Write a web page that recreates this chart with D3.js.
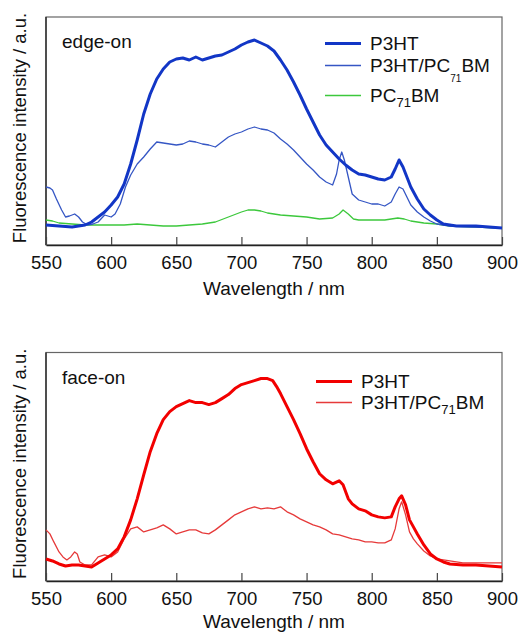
<!DOCTYPE html>
<html>
<head>
<meta charset="utf-8">
<script src="https://cdn.jsdelivr.net/npm/d3@7"></script>
<style>
  body { margin: 0; background: #fff; }
  text { font-family: "Liberation Sans", Arial, sans-serif; fill: #111; }
</style>
</head>
<body>
<svg id="chart" width="519" height="632"></svg>
<script>
// wavelength (nm), intensity (a.u.)
const xTicks = [550, 600, 650, 700, 750, 800, 850, 900];

const edgeP3HT = [[550,20],[560,19],[570,18],[580,20],[585,23],[590,28],[595,33],[600,40],[605,48],[610,61],[615,81],[620,105],[625,131],[630,151],[635,166],[640,176],[645,183],[650,186],[655,187],[660,185],[665,188],[670,185],[675,187],[680,189],[685,190],[690,193],[695,196],[700,200],[705,203],[710,205],[715,202],[720,199],[725,194],[730,185],[735,175],[740,163],[745,150],[750,136],[755,123],[760,110],[765,100],[770,93],[775,86],[780,80],[785,75],[790,71],[795,70],[800,68],[805,66],[810,65],[815,68],[818,76],[821,85],[824,78],[827,68],[830,58],[835,46],[840,36],[845,30],[850,25],[855,21],[860,20],[865,19],[870,19],[880,19],[890,18],[900,17]];

const edgeBlend = [[550,58],[553,57],[555,55],[558,46],[562,35],[565,28],[568,29],[572,31],[575,28],[578,23],[582,20],[586,21],[590,23],[595,30],[600,28],[603,31],[607,41],[611,58],[615,70],[620,81],[625,88],[630,96],[635,103],[640,102],[645,101],[650,100],[655,101],[660,104],[665,103],[670,101],[675,100],[680,98],[685,103],[690,108],[695,111],[700,113],[705,116],[710,118],[715,116],[720,115],[725,112],[730,106],[735,101],[740,95],[745,88],[750,81],[755,75],[760,68],[765,63],[770,60],[773,71],[775,85],[777,93],[779,85],[782,68],[785,51],[790,45],[795,43],[800,41],[805,41],[810,39],[815,43],[818,51],[821,58],[824,56],[827,48],[830,40],[835,33],[840,28],[845,24],[850,21],[855,20],[860,19],[880,18],[900,17]];

const edgePCBM = [[550,25],[555,24],[560,22],[570,21],[580,20],[590,20],[600,20],[610,20],[620,21],[630,20],[640,19],[650,19],[660,20],[670,21],[680,23],[690,28],[700,33],[705,35],[710,35],[715,34],[720,32],[725,31],[730,30],[740,29],[750,28],[760,26],[770,27],[775,31],[778,35],[782,31],[786,26],[790,25],[800,25],[810,25],[815,26],[820,27],[825,26],[830,24],[840,22],[850,21],[860,19],[880,18],[900,17]];

const faceP3HT = [[550,22],[555,20],[560,17],[565,15],[570,16],[575,16],[580,15],[585,14],[590,18],[595,22],[600,26],[605,32],[610,44],[615,61],[620,82],[625,106],[630,129],[635,147],[640,161],[645,169],[650,174],[655,177],[660,180],[665,178],[670,178],[675,176],[680,178],[685,182],[690,186],[695,192],[700,196],[705,198],[710,200],[715,202],[720,202],[724,200],[727,194],[730,187],[735,174],[740,161],[745,147],[750,132],[755,119],[760,107],[765,101],[770,97],[775,100],[778,96],[782,82],[785,77],[790,72],[795,70],[800,66],[805,64],[810,63],[815,64],[818,74],[821,82],[823,85],[826,76],[829,61],[832,54],[835,47],[840,36],[845,27],[850,22],[855,19],[860,17],[870,16],[880,16],[890,15],[900,14]];

const faceBlend = [[550,51],[553,47],[556,39],[560,29],[563,24],[566,21],[569,24],[572,29],[574,27],[576,19],[580,16],[585,16],[590,24],[595,26],[600,24],[605,29],[610,42],[615,52],[620,54],[625,49],[630,51],[635,53],[640,56],[645,52],[650,47],[655,49],[660,51],[665,51],[670,48],[675,47],[680,51],[685,56],[690,61],[695,66],[700,69],[705,72],[710,74],[715,72],[720,73],[725,72],[730,74],[735,69],[740,66],[745,62],[750,59],[755,56],[760,54],[765,51],[770,47],[775,46],[780,44],[785,42],[790,41],[795,39],[800,39],[805,38],[810,38],[815,41],[818,52],[821,72],[823,79],[826,66],[829,49],[832,42],[835,37],[840,30],[845,25],[850,22],[855,21],[860,20],[870,18],[900,18]];

const svg = d3.select("#chart");
const x = d3.scaleLinear().domain([550, 900]).range([46, 502]);

function drawPanel(p) {
    const y = d3.scaleLinear().domain([0, 228]).range([p.bottom, p.top]);
    const g = svg.append("g");

    // frame: grey top/right, black left/bottom
    g.append("rect")
        .attr("x", x(550)).attr("y", p.top)
        .attr("width", x(900) - x(550)).attr("height", p.bottom - p.top)
        .attr("fill", "none").attr("stroke", "#666").attr("stroke-width", 1.2);
    g.append("line")
        .attr("x1", x(550)).attr("x2", x(550)).attr("y1", p.top).attr("y2", p.bottom)
        .attr("stroke", "#222").attr("stroke-width", 1.3);

    const axis = g.append("g")
        .attr("transform", `translate(0,${p.bottom})`)
        .call(d3.axisBottom(x).tickValues(xTicks).tickSizeInner(-8).tickSizeOuter(0).tickPadding(11));
    axis.select(".domain").attr("stroke", "#222").attr("stroke-width", 1.3);
    axis.selectAll(".tick line").attr("stroke", "#444").attr("stroke-width", 1.2);
    axis.selectAll(".tick text")
        .attr("font-size", 18.5).attr("font-family", null).attr("fill", "#111");
    axis.attr("font-family", null);

    // axis titles
    g.append("text")
        .attr("x", 274).attr("y", p.bottom + p.titleGap)
        .attr("text-anchor", "middle").attr("font-size", 19)
        .text("Wavelength / nm");
    g.append("text")
        .attr("transform", `translate(26,${(p.top + p.bottom) / 2 - 3}) rotate(-90)`)
        .attr("text-anchor", "middle").attr("font-size", 18.5)
        .text("Fluorescence intensity / a.u.");

    g.append("text")
        .attr("x", 62).attr("y", p.top + 31)
        .attr("font-size", 19)
        .text(p.label);

    const line = d3.line()
        .x(d => x(d[0]))
        .y(d => y(d[1]));

    // thin lines first, thick on top
    p.series.slice().reverse().forEach(s => {
        g.append("path")
            .datum(s.data)
            .attr("fill", "none")
            .attr("stroke", s.color)
            .attr("stroke-width", s.width)
            .attr("stroke-linejoin", "round")
            .attr("d", line);
    });

    // legend
    p.series.forEach((s, i) => {
        const ly = p.legend.rows[i];
        g.append("line")
            .attr("x1", p.legend.x1).attr("x2", p.legend.x2)
            .attr("y1", ly).attr("y2", ly)
            .attr("stroke", s.color).attr("stroke-width", s.width);
        const t = g.append("text")
            .attr("x", p.legend.tx).attr("y", ly + 6.5)
            .attr("font-size", 19);
        s.name.forEach(part => {
            if (part.sub) {
                t.append("tspan").attr("font-size", part.size).attr("dy", part.dy).text(part.text);
            } else {
                t.append("tspan").attr("dy", part.dy || 0).text(part.text);
            }
        });
    });
}

drawPanel({
    top: 17, bottom: 245, label: "edge-on", titleGap: 50,
    legend: { x1: 325, x2: 361, tx: 370, rows: [43.5, 65.5, 95.5] },
    series: [
        { data: edgeP3HT, color: "#1236c6", width: 3, name: [{ text: "P3HT" }] },
        { data: edgeBlend, color: "#3556c4", width: 1.3,
          name: [{ text: "P3HT/PC" }, { text: "71", sub: true, size: 10, dy: 10 }, { text: "BM", dy: -10 }] },
        { data: edgePCBM, color: "#3cc83c", width: 1.3,
          name: [{ text: "PC" }, { text: "71", sub: true, size: 13, dy: 5 }, { text: "BM", dy: -5 }] }
    ]
});

drawPanel({
    top: 352.5, bottom: 581, label: "face-on", titleGap: 46.5,
    legend: { x1: 316, x2: 352, tx: 361, rows: [381.5, 402.5] },
    series: [
        { data: faceP3HT, color: "#f20000", width: 3, name: [{ text: "P3HT" }] },
        { data: faceBlend, color: "#e63a3a", width: 1.3,
          name: [{ text: "P3HT/PC" }, { text: "71", sub: true, size: 13, dy: 5 }, { text: "BM", dy: -5 }] }
    ]
});
</script>
</body>
</html>
